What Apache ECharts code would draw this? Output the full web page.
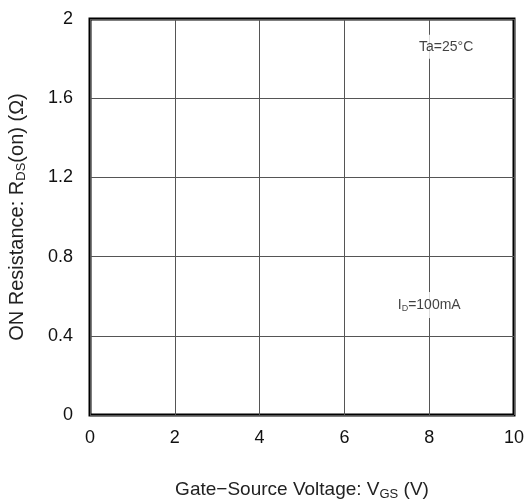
<!DOCTYPE html>
<html><head><meta charset="utf-8">
<script src="https://cdn.jsdelivr.net/npm/echarts@6/dist/echarts.min.js"></script>
<style>html,body{margin:0;padding:0;background:#fff}#c{width:531px;height:503px}</style>
</head><body><div id="c"></div>
<script>
// Axis ranges / ticks
const xTicks = [0, 2, 4, 6, 8, 10];
const yTicks = [0, 0.4, 0.8, 1.2, 1.6, 2];
// Curve data (none visible in the reference)
const curveVgs = [];
const curveRds = [];
// Annotations [x, y, text]
const annX = [8.4, 8.0];
const annY = [1.86, 0.555];
const annText = ['Ta=25°C', 'I{sub|D}=100mA'];

const chart = echarts.init(document.getElementById('c'), null, {renderer: 'canvas'});
const font = 'Liberation Sans, Arial, sans-serif';
chart.setOption({
  animation: false,
  grid: {left: 90, right: 17, top: 19, bottom: 88, outerBoundsMode: 'none', containLabel: false, show: true, borderColor: '#000', borderWidth: 3, backgroundColor: 'transparent'},
  xAxis: {
    type: 'value', min: xTicks[0], max: xTicks[xTicks.length - 1], interval: 2,
    name: 'Gate−Source Voltage: V{sub|GS} (V)', nameLocation: 'middle', nameGap: 64,
    nameTextStyle: {fontFamily: font, fontSize: 19, color: '#222', rich: {sub: {fontSize: 13, fontFamily: font, color: '#222', verticalAlign: 'bottom', padding: [9, 0, 0, 0]}}},
    axisLine: {show: false}, axisTick: {show: false},
    axisLabel: {fontFamily: font, fontSize: 18, color: '#111', margin: 14},
    splitLine: {show: true, lineStyle: {color: '#555', width: 1}}
  },
  yAxis: {
    type: 'value', min: yTicks[0], max: yTicks[yTicks.length - 1], interval: 0.4,
    name: 'ON Resistance: R{sub|DS}(on) (Ω)', nameLocation: 'middle', nameGap: 62, nameRotate: 90,
    nameTextStyle: {fontFamily: font, fontSize: 20, color: '#222', rich: {sub: {fontSize: 13, fontFamily: font, color: '#222', verticalAlign: 'bottom', padding: [9, 0, 0, 0]}}},
    axisLine: {show: false}, axisTick: {show: false},
    axisLabel: {fontFamily: font, fontSize: 18, color: '#111', margin: 17},
    splitLine: {show: true, lineStyle: {color: '#555', width: 1}}
  },
  series: [
    {type: 'line', data: curveVgs.map((v, i) => [v, curveRds[i]]), showSymbol: false, lineStyle: {color: '#000', width: 2}},
    {
      type: 'scatter', symbolSize: 0, z: 5,
      data: annX.map((x, i) => ({value: [x, annY[i]], label: {formatter: annText[i]}})),
      label: {show: true, position: 'inside', fontFamily: font, fontSize: 14, color: '#111',
        backgroundColor: '#fff', padding: [5, 3, 5, 3],
        rich: {sub: {fontSize: 9, fontFamily: font, color: '#111', verticalAlign: 'bottom', padding: [7, 0, 0, 0], backgroundColor: '#fff'}}}
    }
  ]
});
</script></body></html>
